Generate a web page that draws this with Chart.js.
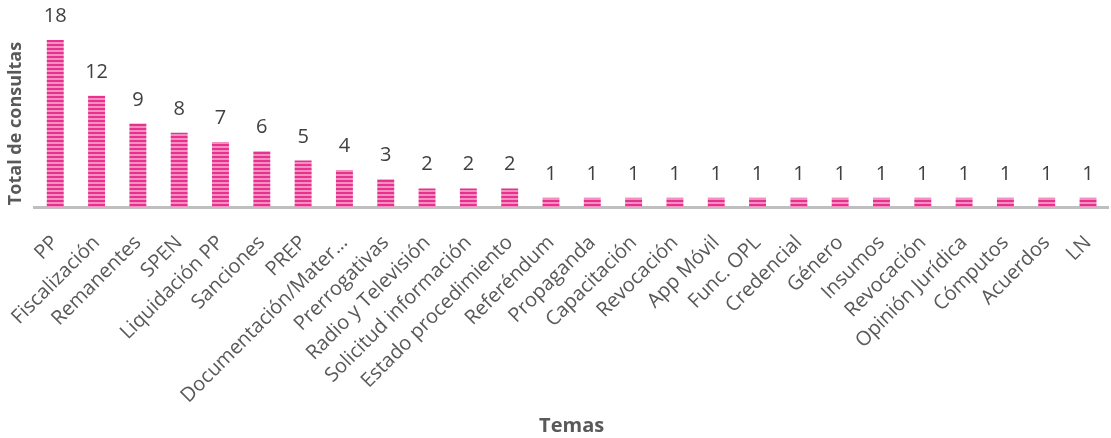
<!DOCTYPE html>
<html>
<head>
<meta charset="utf-8">
<script src="https://cdn.jsdelivr.net/npm/chart.js@4/dist/chart.umd.min.js"></script>
<style>
  html, body { margin: 0; padding: 0; background: #fff; overflow: hidden; }
  #wrap { width: 1121px; height: 438px; }
</style>
</head>
<body>
<div id="wrap"><canvas id="chart" width="1121" height="438"></canvas></div>
<script>
const temas = [
  "PP", "Fiscalización", "Remanentes", "SPEN", "Liquidación PP", "Sanciones",
  "PREP", "Documentación/Mater…", "Prerrogativas", "Radio y Televisión",
  "Solicitud información", "Estado procedimiento", "Referéndum", "Propaganda",
  "Capacitación", "Revocación", "App Móvil", "Func. OPL", "Credencial", "Género",
  "Insumos", "Revocación", "Opinión Jurídica", "Cómputos", "Acuerdos", "LN"
];
const consultas = [18, 12, 9, 8, 7, 6, 5, 4, 3, 2, 2, 2, 1, 1, 1, 1, 1, 1, 1, 1, 1, 1, 1, 1, 1, 1];

// striped fill like the original bars
function stripes() {
  const p = document.createElement("canvas");
  p.width = 4;
  p.height = 4;
  const c = p.getContext("2d");
  c.fillStyle = "#e8318e";
  c.fillRect(0, 0, 4, 2);
  c.fillStyle = "#f390c2";
  c.fillRect(0, 2, 4, 2);
  return c.createPattern(p, "repeat");
}

const valueLabels = {
  id: "valueLabels",
  afterDatasetsDraw(chart) {
    const ctx = chart.ctx;
    const meta = chart.getDatasetMeta(0);
    ctx.save();
    ctx.font = "20px 'Open Sans'";
    ctx.fillStyle = "#404040";
    ctx.textAlign = "center";
    ctx.textBaseline = "alphabetic";
    meta.data.forEach((bar, i) => {
      ctx.fillText(String(consultas[i]), bar.x, bar.y - 18);
    });
    ctx.restore();
  }
};

const ctx = document.getElementById("chart").getContext("2d");
new Chart(ctx, {
  type: "bar",
  data: {
    labels: temas,
    datasets: [
      {
        label: "Total de consultas",
        data: consultas,
        backgroundColor: stripes(),
        borderWidth: 0,
        categoryPercentage: 1,
        barPercentage: 0.41,
      },
    ],
  },
  options: {
    responsive: false,
    animation: false,
    layout: { padding: { top: 40, left: 0, right: 0, bottom: 0 } },
    plugins: {
      legend: { display: false },
      tooltip: { enabled: false },
    },
    scales: {
      x: {
        // the rotated labels need more room than half the chart height
        afterFit(scale) {
          scale.height = 231;
        },
        grid: { display: false },
        border: { display: true, color: "#bfbfbf", width: 3 },
        ticks: {
          color: "#595959",
          font: { family: "'Open Sans'", size: 20 },
          minRotation: 45,
          maxRotation: 45,
          autoSkip: false,
          padding: 16,
        },
        title: {
          display: true,
          text: "Temas",
          color: "#595959",
          font: { family: "'Open Sans'", size: 20, weight: "bold" },
          padding: { top: 4, bottom: 0 },
        },
      },
      y: {
        min: 0,
        max: 18,
        grid: { display: false },
        border: { display: false },
        ticks: { display: false },
        title: {
          display: true,
          text: "Total de consultas",
          color: "#595959",
          font: { family: "'Open Sans'", size: 18, weight: "bold" },
          padding: { top: 5, bottom: 0 },
        },
      },
    },
  },
  plugins: [valueLabels],
});
</script>
</body>
</html>
